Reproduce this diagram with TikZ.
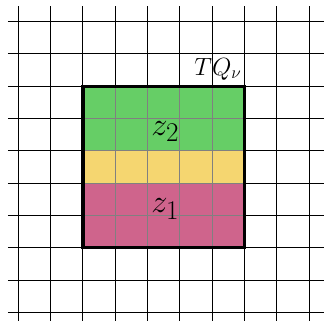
\documentclass[tikz,border=0pt]{standalone}
\usepackage{amsmath}
\usetikzlibrary{calc}
\definecolor{cellgreen}{RGB}{102,206,102}
\definecolor{cellyellow}{RGB}{245,214,112}
\definecolor{cellpink}{RGB}{207,100,140}

\begin{document}
\begin{tikzpicture}[x=1cm, y=1cm,
    gridline/.style={line width=0.75pt},
    boxlabel/.style={font=\Huge, scale=1.15, anchor=base, inner sep=0pt}]
    % page size: 10 x 10 cells, a little margin round them
    \useasboundingbox (-0.567,-0.363) rectangle (9.46,9.668);

    % Coloured strips inside the box
    \fill[cellpink] (2,2) rectangle (7,4);
    \fill[cellyellow] (2,4) rectangle (7,5);
    \fill[cellgreen] (2,5) rectangle (7,7);

    % Background grid
    \foreach \i in {0,...,9} {
        \draw[gridline] (\i,-0.27) -- (\i,9.48);
        \draw[gridline] (-0.32,\i) -- (9.45,\i);
    }
    \draw[gridline, gray] (2,2) grid (7,7);

    % The box and its labels
    \draw[line width=2.8pt] (2,2) rectangle (7,7);
    \node[boxlabel] (ztwo) at (4.55,5.475) {$z_2$};
    \node[boxlabel] (zone) at (4.55,3.08) {$z_1$};
    \node[boxlabel, font=\huge, scale=0.92] (tq) at (6.18,7.34) {$TQ_\nu$};
\end{tikzpicture}
\end{document}
